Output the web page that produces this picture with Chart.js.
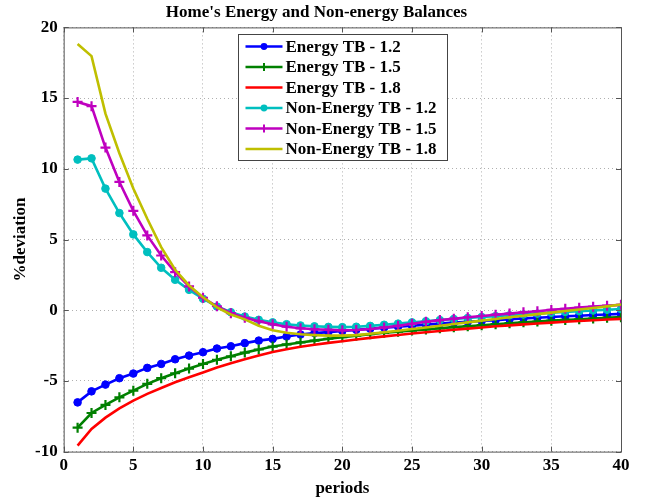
<!DOCTYPE html>
<html>
<head>
<meta charset="utf-8">
<script src="https://cdn.jsdelivr.net/npm/chart.js@4.4.0/dist/chart.umd.min.js"></script>
<style>
  html, body { margin: 0; padding: 0; background: #fff; }
  #wrap { width: 651px; height: 500px; }
</style>
</head>
<body>
<div id="wrap"><canvas id="balChart" width="651" height="500"></canvas></div>
<script>
// periods 1..40
const periods = [1,2,3,4,5,6,7,8,9,10,11,12,13,14,15,16,17,18,19,20,21,22,23,24,25,26,27,28,29,30,31,32,33,34,35,36,37,38,39,40];

const energy12 = [-6.52,-5.74,-5.26,-4.81,-4.48,-4.08,-3.80,-3.47,-3.21,-2.97,-2.71,-2.55,-2.33,-2.15,-2.03,-1.86,-1.72,-1.62,-1.55,-1.47,-1.39,-1.31,-1.23,-1.16,-1.09,-1.02,-0.95,-0.88,-0.82,-0.76,-0.70,-0.64,-0.58,-0.53,-0.48,-0.43,-0.39,-0.34,-0.30,-0.26];
const energy15 = [-8.31,-7.27,-6.70,-6.16,-5.69,-5.21,-4.81,-4.46,-4.13,-3.80,-3.51,-3.26,-3.00,-2.78,-2.57,-2.42,-2.28,-2.15,-2.02,-1.91,-1.80,-1.70,-1.60,-1.52,-1.44,-1.36,-1.28,-1.20,-1.13,-1.06,-0.99,-0.92,-0.86,-0.80,-0.74,-0.69,-0.64,-0.59,-0.54,-0.49];
const energy18 = [-9.58,-8.40,-7.60,-6.95,-6.40,-5.92,-5.50,-5.10,-4.74,-4.41,-4.05,-3.75,-3.47,-3.20,-2.95,-2.76,-2.59,-2.44,-2.31,-2.19,-2.07,-1.96,-1.85,-1.75,-1.65,-1.56,-1.47,-1.38,-1.30,-1.22,-1.14,-1.07,-1.00,-0.94,-0.88,-0.82,-0.76,-0.71,-0.66,-0.61];
const nonEnergy12 = [10.65,10.74,8.60,6.87,5.36,4.11,3.00,2.15,1.44,0.81,0.26,-0.14,-0.45,-0.68,-0.86,-0.99,-1.08,-1.14,-1.18,-1.20,-1.17,-1.11,-1.03,-0.95,-0.86,-0.78,-0.70,-0.62,-0.55,-0.48,-0.42,-0.36,-0.30,-0.24,-0.18,-0.12,-0.07,-0.02,0.03,0.08];
const nonEnergy15 = [14.73,14.43,11.50,9.07,7.03,5.29,3.87,2.69,1.68,0.88,0.28,-0.21,-0.54,-0.78,-1.00,-1.17,-1.28,-1.35,-1.39,-1.42,-1.40,-1.33,-1.22,-1.10,-0.96,-0.82,-0.70,-0.60,-0.50,-0.41,-0.32,-0.24,-0.15,-0.07,0.02,0.10,0.18,0.25,0.32,0.38];
const nonEnergy18 = [18.82,17.97,13.90,11.10,8.60,6.47,4.46,2.86,1.75,0.92,0.20,-0.30,-0.65,-1.10,-1.42,-1.60,-1.70,-1.76,-1.80,-1.80,-1.76,-1.67,-1.56,-1.45,-1.33,-1.22,-1.10,-0.98,-0.86,-0.74,-0.62,-0.50,-0.39,-0.28,-0.17,-0.06,0.05,0.16,0.27,0.40];

const xTicks = [0,5,10,15,20,25,30,35,40];
const yTicks = [-10,-5,0,5,10,15,20];

const FONT = '"Liberation Serif", "Times New Roman", serif';
const boldFont = {family: FONT, size: 17, weight: 'bold'};
const axisTitleFont = {family: FONT, size: 17, weight: 'bold', lineHeight: 1};

function pts(vals){ return vals.map((v,i)=>({x:periods[i], y:v})); }

function series(label, vals, color, style, order){
  return {label, data: pts(vals), borderColor: color, backgroundColor: color,
    borderWidth: 2.6, tension: 0, order: order, pointStyle: style || false,
    pointRadius: style ? (style === 'cross' ? 5 : 3.8) : 0,
    pointBorderWidth: style === 'cross' ? 2.2 : 1, pointHoverRadius: 0};
}

// frame box + legend drawn inside the plot area
const frameLegend = {
  id: 'frameLegend',
  afterDraw(chart){
    const {ctx, chartArea: a} = chart;
    ctx.save();
    ctx.strokeStyle = '#555'; ctx.lineWidth = 1;
    ctx.strokeRect(a.left+0.5, a.top+0.5, a.right-a.left, a.bottom-a.top);
    // inside ticks
    const xs = chart.scales.x, ys = chart.scales.y;
    ctx.beginPath();
    xTicks.forEach(t=>{ const px = Math.round(xs.getPixelForValue(t))+0.5;
      ctx.moveTo(px, a.bottom); ctx.lineTo(px, a.bottom-5);
      ctx.moveTo(px, a.top); ctx.lineTo(px, a.top+5); });
    yTicks.forEach(t=>{ const py = Math.round(ys.getPixelForValue(t))+0.5;
      ctx.moveTo(a.left, py); ctx.lineTo(a.left+5, py);
      ctx.moveTo(a.right, py); ctx.lineTo(a.right-5, py); });
    ctx.stroke();

    // legend
    const w = 209, h = 126, rowH = 20.5;
    const lx = Math.round((a.left + a.right)/2 - w/2) + 0.5, ly = Math.round(a.top) + 7.5;
    ctx.fillStyle = '#fff';
    ctx.fillRect(lx, ly, w, h);
    ctx.strokeStyle = '#444'; ctx.lineWidth = 1;
    ctx.strokeRect(lx, ly, w, h);
    ctx.font = 'bold 17px ' + FONT;
    ctx.textBaseline = 'middle';
    chart.data.datasets.forEach((ds, i)=>{
      const y = ly + 12 + i*rowH;
      ctx.strokeStyle = ds.borderColor; ctx.lineWidth = 2.6;
      ctx.beginPath(); ctx.moveTo(lx+7, y); ctx.lineTo(lx+44, y); ctx.stroke();
      const cx = lx + 25.5;
      if (ds.pointStyle === 'circle'){
        ctx.fillStyle = ds.borderColor;
        ctx.beginPath(); ctx.arc(cx, y, 3.4, 0, Math.PI*2); ctx.fill();
      } else if (ds.pointStyle === 'cross'){
        ctx.lineWidth = 2;
        ctx.beginPath(); ctx.moveTo(cx, y-4); ctx.lineTo(cx, y+4); ctx.stroke();
      }
      ctx.fillStyle = '#000';
      ctx.fillText(ds.label, lx + 47, y + 1);
    });
    ctx.restore();
  }
};

new Chart(document.getElementById('balChart'), {
  type: 'line',
  data: {
    datasets: [
      series('Energy TB - 1.2', energy12, '#0000ff', 'circle', 6),
      series('Energy TB - 1.5', energy15, '#008000', 'cross', 5),
      series('Energy TB - 1.8', energy18, '#ff0000', null, 4),
      series('Non-Energy TB - 1.2', nonEnergy12, '#00bfbf', 'circle', 3),
      series('Non-Energy TB - 1.5', nonEnergy15, '#bf00bf', 'cross', 2),
      series('Non-Energy TB - 1.8', nonEnergy18, '#bfbf00', null, 1)
    ]
  },
  options: {
    responsive: false, animation: false,
    layout: {padding: {top: 2, right: 30, left: 12, bottom: 3}},
    plugins: {
      legend: {display: false},
      tooltip: {enabled: false},
      title: {display: true, text: "Home's Energy and Non-energy Balances", color: '#000',
        font: boldFont, padding: {top: 0, bottom: 5}}
    },
    scales: {
      x: {type: 'linear', min: 0, max: 40,
        afterBuildTicks: s => { s.ticks = xTicks.map(v=>({value:v})); },
        ticks: {color: '#000', font: boldFont, padding: 4, maxRotation: 0},
        grid: {color: '#b0b0b0', lineWidth: 1, drawTicks: false},
        border: {display: false, dash: [1,3]},
        title: {display: true, text: 'periods', color: '#000', font: axisTitleFont, padding: {top: 0, bottom: 0}}
      },
      y: {min: -10, max: 20,
        afterBuildTicks: s => { s.ticks = yTicks.map(v=>({value:v})); },
        ticks: {color: '#000', font: boldFont, padding: 6},
        grid: {color: '#b0b0b0', lineWidth: 1, drawTicks: false},
        border: {display: false, dash: [1,3]},
        title: {display: true, text: '%deviation', color: '#000', font: axisTitleFont, padding: {top: 0, bottom: 0}}
      }
    }
  },
  plugins: [frameLegend]
});
</script>
</body>
</html>
